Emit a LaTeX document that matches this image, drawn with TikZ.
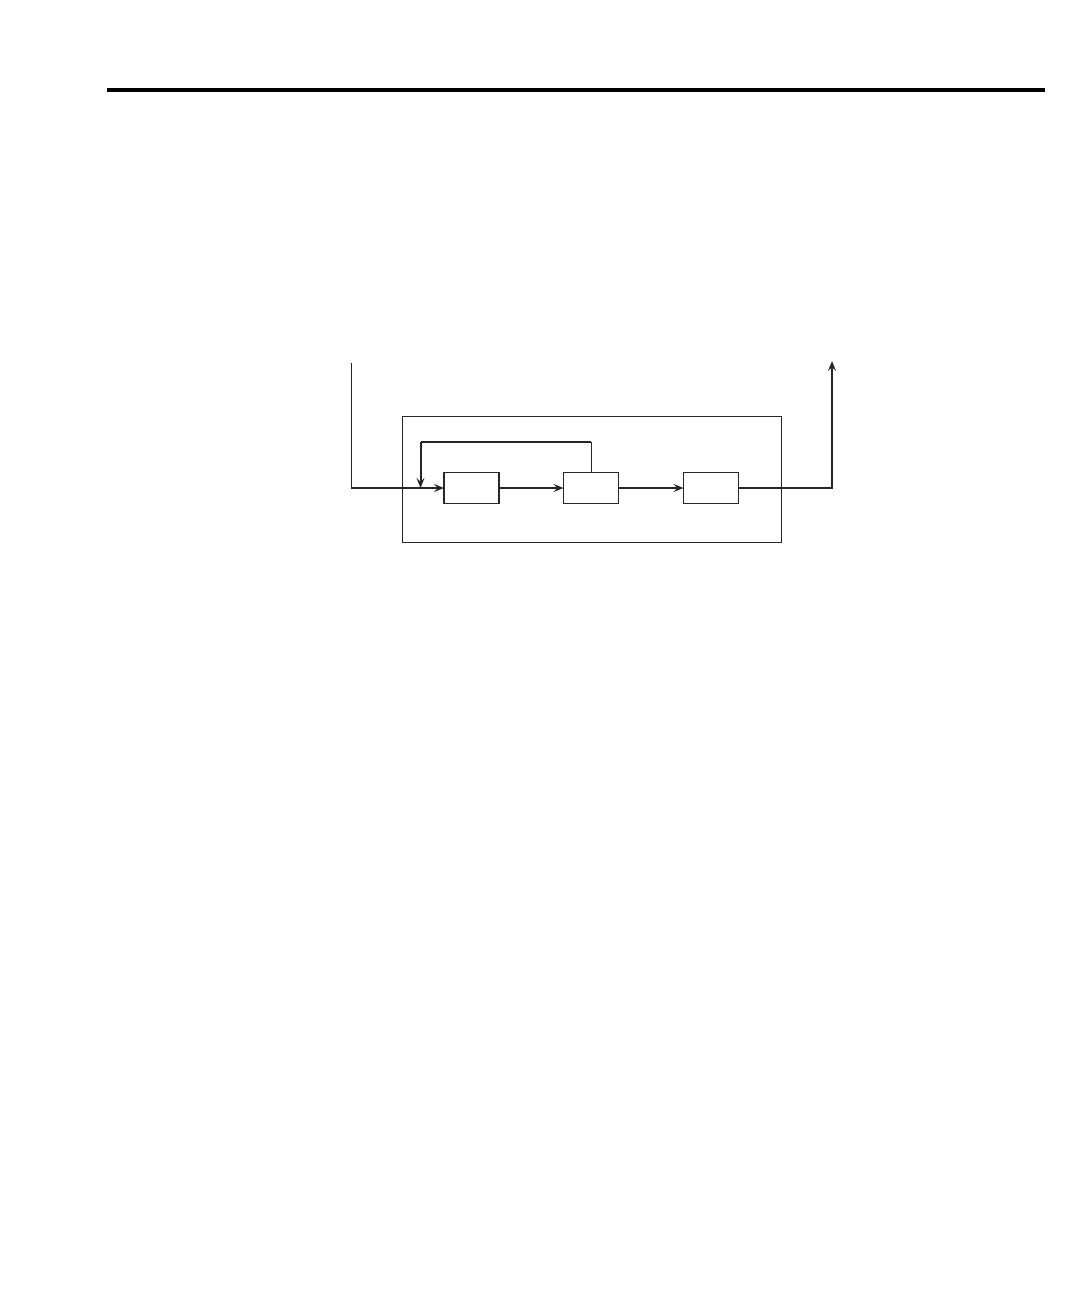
\documentclass[tikz,border=0pt]{standalone}
\usetikzlibrary{arrows.meta}
\begin{document}
\begin{tikzpicture}[x=1pt,y=-1pt,
  blockbox/.style={draw=black!85,line width=1.4pt,minimum width=55pt,minimum height=31pt,inner sep=0pt,outer sep=0pt},
  outerbox/.style={draw=black!85,line width=1pt,minimum width=379pt,minimum height=126pt,inner sep=0pt},
  sig/.style={draw=black!85,line width=2pt},
  thinsig/.style={draw=black!85,line width=1pt},
  tip/.style={-{Stealth[length=10pt,width=8pt,inset=4pt]}}]
\useasboundingbox (0,0) rectangle (1080,1298);
\draw[line width=4pt] (107,90) -- (1045,90);
\node[outerbox] (outer) at (591.5,479) {};
\node[blockbox] (b1) at (471.5,488) {};
\node[blockbox] (b2) at (591,488) {};
\node[blockbox] (b3) at (711,488) {};
\coordinate (in) at (351,363);
\coordinate (inc) at (351,488);
\coordinate (fbtop) at (591,441.5);
\coordinate (fbleft) at (420.5,441.5);
\coordinate (fbend) at (420.5,488);
\coordinate (outc) at (832,488);
\coordinate (out) at (832,361);
\draw[thinsig] (in) -- (inc);
\draw[sig,tip] (inc) -- (b1.west);
\draw[sig,tip] (b1.east) -- (b2.west);
\draw[sig,tip] (b2.east) -- (b3.west);
\draw[thinsig] (b2.north) -- (fbtop);
\draw[sig] (fbtop) -- (fbleft);
\draw[sig,tip] (fbleft) -- (fbend);
\draw[sig,tip] (b3.east) -- (outc) -- (out);
\end{tikzpicture}
\end{document}
